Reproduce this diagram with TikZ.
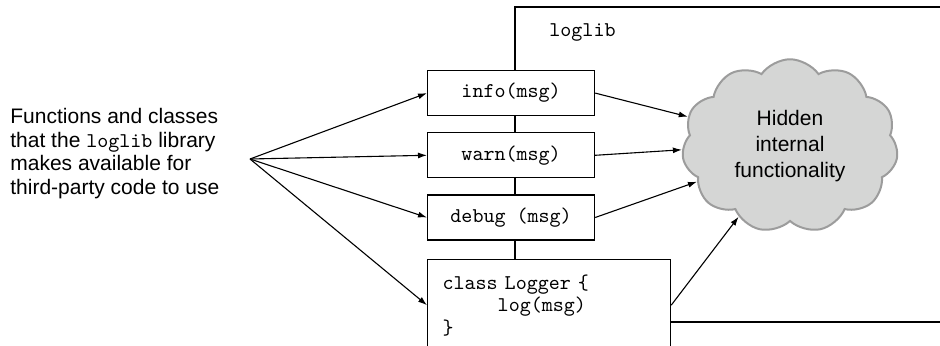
\documentclass[tikz,border=0pt]{standalone}
\usepackage{fontspec}
\setmainfont{Liberation Sans}
\usepackage{xcolor}
\usetikzlibrary{positioning,shapes.symbols,arrows.meta}

\definecolor{cloudfill}{HTML}{D5D6D5}
\definecolor{cloudline}{HTML}{9C9C9C}

\tikzset{
  funcbox/.style={draw, fill=white, line width=0.6pt, minimum width=83.5pt,
    minimum height=22.5pt, inner sep=0pt, font=\fontsize{10.5}{11}\ttfamily},
  conn/.style={line width=0.55pt, -{Latex[length=4.5pt,width=3pt]}},
  framel/.style={line width=0.6pt}
}

\begin{document}
\begin{tikzpicture}[x=0.5pt, y=-0.5pt]
  \useasboundingbox (0,0) rectangle (940,346);

  \node[anchor=west, inner sep=0pt, align=left,
    font=\fontsize{10.5}{11.75}\selectfont] (desc) at (10,153.5)
    {Functions and classes\\that the \texttt{loglib} library\\makes available for\\third-party code to use};
  \coordinate (fan) at (250,159);

  \node[funcbox, anchor=north west] (info) at (427,70) {info(msg)};
  \node[funcbox, below=8pt of info] (warn) {warn(msg)};
  \node[funcbox, below=8pt of warn] (debug) {debug (msg)};
  \node[draw, fill=white, line width=0.6pt, anchor=north west,
    minimum width=121.5pt, minimum height=46pt,
    text width=106.5pt, inner xsep=7.5pt, inner ysep=0pt, align=left,
    font=\fontsize{10.5}{11.25}\ttfamily] (logger)
    at ([yshift=-9pt]debug.south west)
    {class Logger \{\\\phantom{xxxxx}log(msg)\\\}};

  % frame of the library
  \coordinate (frametop) at (515,7);
  \coordinate (frameNE) at (960,7);
  \coordinate (frameSE) at (960,322);
  \draw[framel] (info.north -| frametop) -- (frametop) -- (frameNE);
  \draw[framel] (logger.east |- frameSE) -- (frameSE);
  \node[anchor=west, inner sep=0pt, font=\fontsize{10.5}{11}\ttfamily] (libname) at (549,32) {loglib};
  \foreach \a/\b in {info/warn,warn/debug,debug/logger}
    \draw[framel] (\a.south -| frametop) -- (\b.north -| frametop);

  \node[cloud, cloud puffs=11, cloud puff arc=110, draw=cloudline, fill=cloudfill,
    line width=1pt, minimum width=108pt, minimum height=78pt, inner sep=0pt,
    align=center, font=\fontsize{10.5}{13}\selectfont] (cloud) at (790,146)
    {Hidden\\internal\\functionality};

  \foreach \b in {info,warn,debug,logger}
    \draw[conn] (fan) -- (\b.west);
  \draw[conn] (info.east) -- (cloud.164);
  \draw[conn] (warn.east) -- (cloud.182);
  \draw[conn] (debug.east) -- (cloud.201);
  \draw[conn] (logger.east) -- (cloud.234);
\end{tikzpicture}
\end{document}
